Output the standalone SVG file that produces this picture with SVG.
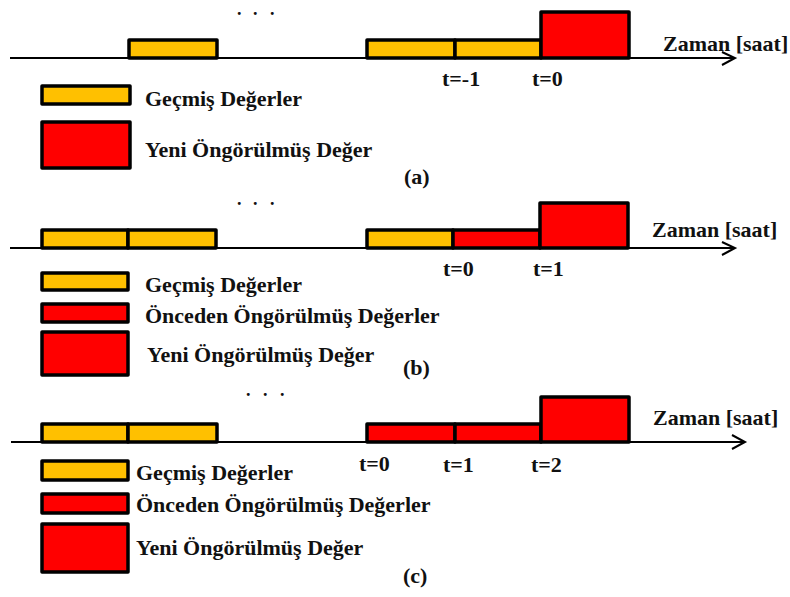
<svg xmlns="http://www.w3.org/2000/svg" width="790" height="597" viewBox="0 0 790 597">
<style>
.y{fill:#FFC000;stroke:#000;stroke-width:3.5;stroke-linejoin:round}
.r{fill:#FF0000;stroke:#000;stroke-width:3.5;stroke-linejoin:round}
.ax{fill:none;stroke:#000;stroke-width:1.8}
.ah{fill:none;stroke:#000;stroke-width:2}
.t{font-family:'Liberation Serif','Times New Roman',serif;font-weight:bold;font-size:22px;fill:#111}
.d{font-family:'Liberation Serif','Times New Roman',serif;font-weight:bold;font-size:18px;fill:#111}
</style>
<rect width="790" height="597" fill="#fff"/>
<g id="connectors">
<line class="ax" x1="10" y1="58" x2="735" y2="58"/>
<polyline class="ah" points="722,52 735,58 722,65"/>
<line class="ax" x1="10" y1="248" x2="735" y2="248"/>
<polyline class="ah" points="722,242 735,248 722,255"/>
<line class="ax" x1="11" y1="442" x2="745" y2="442"/>
<polyline class="ah" points="732,435 745,442 732,449"/>
</g>
<g id="panel-a">
<g id="a-dots"><text class="d" x="237 253 270" y="15">...</text></g>
<g id="a-past-1"><rect class="y" x="129" y="40" width="88" height="18"/></g>
<g id="a-past-2"><rect class="y" x="367" y="40" width="88" height="18"/></g>
<g id="a-past-3"><rect class="y" x="455" y="40" width="86" height="18"/></g>
<g id="a-new"><rect class="r" x="541" y="12" width="88" height="46"/></g>
<g id="a-axis-label"><text class="t" x="663" y="51">Zaman [saat]</text></g>
<g id="a-tm1"><text class="t" x="442" y="86">t=-1</text></g>
<g id="a-t0"><text class="t" x="532" y="86">t=0</text></g>
<g id="a-leg-past"><rect class="y" x="42" y="86" width="88" height="18"/><text class="t" x="145" y="106">Geçmiş Değerler</text></g>
<g id="a-leg-new"><rect class="r" x="42" y="122" width="88" height="46"/><text class="t" x="145" y="157">Yeni Öngörülmüş Değer</text></g>
<g id="a-caption"><text class="t" x="404" y="184">(a)</text></g>
</g>
<g id="panel-b">
<g id="b-dots"><text class="d" x="237 253 270" y="205">...</text></g>
<g id="b-past-1"><rect class="y" x="42" y="230" width="86" height="18"/></g>
<g id="b-past-2"><rect class="y" x="128" y="230" width="88" height="18"/></g>
<g id="b-past-3"><rect class="y" x="367" y="230" width="86" height="18"/></g>
<g id="b-prev"><rect class="r" x="453" y="230" width="87" height="18"/></g>
<g id="b-new"><rect class="r" x="540" y="203" width="88" height="45"/></g>
<g id="b-axis-label"><text class="t" x="652" y="237">Zaman [saat]</text></g>
<g id="b-t0"><text class="t" x="443" y="276">t=0</text></g>
<g id="b-t1"><text class="t" x="533" y="276">t=1</text></g>
<g id="b-leg-past"><rect class="y" x="42" y="273" width="86" height="17"/><text class="t" x="145" y="292">Geçmiş Değerler</text></g>
<g id="b-leg-prev"><rect class="r" x="42" y="304" width="86" height="18"/><text class="t" x="145" y="323">Önceden Öngörülmüş Değerler</text></g>
<g id="b-leg-new"><rect class="r" x="42" y="332" width="86" height="43"/><text class="t" x="147" y="362">Yeni Öngörülmüş Değer</text></g>
<g id="b-caption"><text class="t" x="403" y="375">(b)</text></g>
</g>
<g id="panel-c">
<g id="c-dots"><text class="d" x="246 263 280" y="396">...</text></g>
<g id="c-past-1"><rect class="y" x="42" y="424" width="86" height="18"/></g>
<g id="c-past-2"><rect class="y" x="128" y="424" width="89" height="18"/></g>
<g id="c-prev-1"><rect class="r" x="367" y="424" width="88" height="18"/></g>
<g id="c-prev-2"><rect class="r" x="455" y="424" width="86" height="18"/></g>
<g id="c-new"><rect class="r" x="541" y="397" width="88" height="45"/></g>
<g id="c-axis-label"><text class="t" x="653" y="425">Zaman [saat]</text></g>
<g id="c-t0"><text class="t" x="359" y="471">t=0</text></g>
<g id="c-t1"><text class="t" x="443" y="472">t=1</text></g>
<g id="c-t2"><text class="t" x="531" y="472">t=2</text></g>
<g id="c-leg-past"><rect class="y" x="42" y="461" width="86" height="19"/><text class="t" x="136" y="480">Geçmiş Değerler</text></g>
<g id="c-leg-prev"><rect class="r" x="42" y="494" width="86" height="19"/><text class="t" x="136" y="512">Önceden Öngörülmüş Değerler</text></g>
<g id="c-leg-new"><rect class="r" x="42" y="524" width="86" height="48"/><text class="t" x="136" y="555">Yeni Öngörülmüş Değer</text></g>
<g id="c-caption"><text class="t" x="403" y="583">(c)</text></g>
</g>
</svg>
